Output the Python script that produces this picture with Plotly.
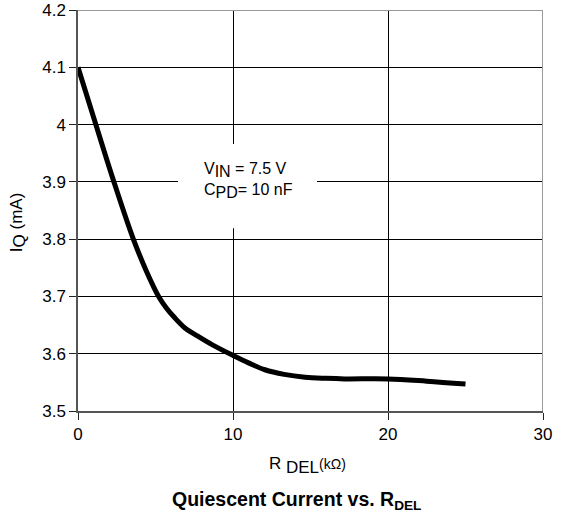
import plotly.graph_objects as go

r_del = [0, 1.15, 2.28, 3.57, 4.4, 5.2, 5.7, 6.2, 6.9, 7.7, 8.7, 10, 11, 12.06, 13.3, 14.65, 16, 17.2, 20, 22.5, 25]
i_q = [4.1, 4.0, 3.903, 3.8, 3.745, 3.7, 3.68, 3.664, 3.645, 3.631, 3.615, 3.597, 3.584, 3.572, 3.564, 3.559, 3.557, 3.556, 3.556, 3.552, 3.547]

x_ticks = [0, 10, 20, 30]
y_ticks = [3.5, 3.6, 3.7, 3.8, 3.9, 4.0, 4.1, 4.2]
y_labels = ["3.5", "3.6", "3.7", "3.8", "3.9", "4", "4.1", "4.2"]

FONT = "Liberation Sans, Arial, Helvetica, sans-serif"

fig = go.Figure()
fig.add_trace(go.Scatter(
    x=r_del, y=i_q, mode="lines",
    line=dict(color="black", width=5, shape="spline", smoothing=1.0),
    showlegend=False, hoverinfo="skip",
))

fig.update_layout(
    width=561, height=516,
    margin=dict(l=78, r=18, t=10, b=105),
    paper_bgcolor="white", plot_bgcolor="white",
    font=dict(family=FONT, size=17, color="black"),
    xaxis=dict(
        range=[0, 30], tickvals=x_ticks, ticktext=[str(v) for v in x_ticks],
        showgrid=True, gridcolor="black", gridwidth=1.3,
        showline=True, linecolor="#555", linewidth=1.5,
        ticks="outside", ticklen=7, tickcolor="#222",
        zeroline=False, tickfont=dict(size=17), automargin=False,
    ),
    yaxis=dict(
        range=[3.5, 4.2], tickvals=y_ticks, ticktext=y_labels,
        showgrid=True, gridcolor="black", gridwidth=1.3,
        showline=True, linecolor="#555", linewidth=1.5,
        ticks="outside", ticklen=7, tickcolor="#222",
        zeroline=False, tickfont=dict(size=17), automargin=False,
    ),
    shapes=[
        dict(type="rect", xref="x", yref="y", x0=6.45, x1=15.42, y0=3.819, y1=3.966,
             fillcolor="white", line=dict(width=0), layer="between"),
        dict(type="line", xref="paper", yref="y", x0=0, x1=1, y0=4.2, y1=4.2,
             line=dict(color="#999", width=2), layer="above"),
        dict(type="line", xref="x", yref="paper", x0=30, x1=30, y0=0, y1=1,
             line=dict(color="#999", width=2), layer="above"),
    ],
    annotations=[
        dict(xref="x", yref="y", x=11.0, y=3.903, showarrow=False,
             text="V<sub><span style='font-size:16px'>IN</span></sub> = 7.5 V<br>"
                  "C<sub><span style='font-size:16px'>PD</span></sub>= 10 nF",
             font=dict(size=16), align="left",
             xanchor="center", yanchor="middle"),
        dict(xref="paper", yref="paper", x=0.4946, y=-0.1347, showarrow=False,
             text="R <sub><span style='font-size:17px'>DEL</span></sub>"
                  "<span style='font-size:14px'>(kΩ)</span>",
             font=dict(size=17), xanchor="center", yanchor="middle"),
        dict(xref="paper", yref="paper", x=-0.129, y=0.471, showarrow=False,
             text="I<sub><span style='font-size:17px'>Q</span></sub> (mA)",
             font=dict(size=17), textangle=-90, xanchor="center", yanchor="middle"),
        dict(xref="paper", yref="paper", x=0.469, y=-0.222, showarrow=False,
             text="<b>Quiescent Current vs. R<sub>DEL</sub></b>",
             font=dict(size=19.5), xanchor="center", yanchor="middle"),
    ],
)

fig.write_html("out.html", config={"displayModeBar": False},
               post_script="document.body.style.margin='0';")
